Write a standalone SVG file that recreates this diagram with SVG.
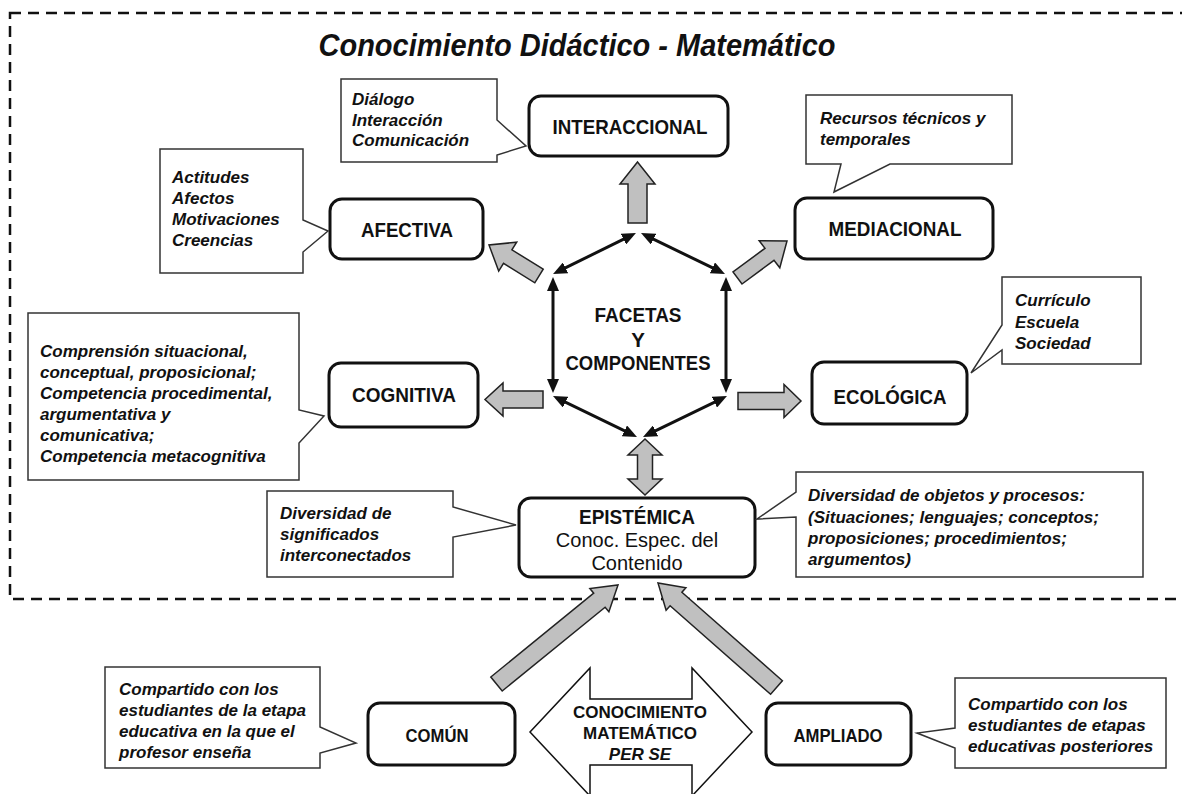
<svg xmlns="http://www.w3.org/2000/svg" width="1182" height="794" viewBox="0 0 1182 794">
<style>
.frame{fill:none;stroke:#111;stroke-width:2.5;stroke-dasharray:11 7}
.box{fill:#fff;stroke:#111;stroke-width:3}
.callout{fill:#fff;stroke:#333;stroke-width:1.5;stroke-linejoin:miter}
.garrow{fill:#c0c0c0;stroke:#222;stroke-width:1.5;stroke-linejoin:miter}
.warrow{fill:#fff;stroke:#111;stroke-width:1.5;stroke-linejoin:miter}
.hex{stroke:#111;stroke-width:3;fill:none;marker-start:url(#ah);marker-end:url(#ah)}
.title{font-family:"Liberation Sans",Arial,sans-serif;font-weight:bold;font-style:italic;font-size:31px;fill:#111;text-anchor:middle}
.lbl{font-family:"Liberation Sans",Arial,sans-serif;font-weight:bold;font-size:20.5px;fill:#111;text-anchor:middle}
.lbl2{font-family:"Liberation Sans",Arial,sans-serif;font-weight:bold;font-size:18.5px;fill:#111;text-anchor:middle}
.reg{font-family:"Liberation Sans",Arial,sans-serif;font-size:20px;fill:#111;text-anchor:middle}
.sm{font-family:"Liberation Sans",Arial,sans-serif;font-weight:bold;font-size:17px;fill:#111;text-anchor:middle}
.note{font-family:"Liberation Sans",Arial,sans-serif;font-weight:bold;font-style:italic;font-size:17px;fill:#111}
</style>
<defs>
<marker id="ah" viewBox="0 0 14 12" refX="2" refY="6" markerWidth="14" markerHeight="12" markerUnits="userSpaceOnUse" orient="auto-start-reverse">
<path d="M0,0 L14,6 L0,12 Z" fill="#111"/>
</marker>
</defs>
<rect width="1182" height="794" fill="#fff"/>
<rect class="frame" x="10" y="13" width="1190" height="586"/>
<text class="title" x="577" y="56" textLength="517" lengthAdjust="spacingAndGlyphs">Conocimiento Didáctico - Matemático</text>

<g id="connectors">
<line class="hex" x1="563.8" y1="268.7" x2="625.2" y2="238.3"/>
<line class="hex" x1="651.8" y1="238.3" x2="714.2" y2="268.7"/>
<line class="hex" x1="726" y1="289" x2="726" y2="381"/>
<line class="hex" x1="553" y1="289" x2="553" y2="381"/>
<line class="hex" x1="563.8" y1="401.3" x2="626.2" y2="431.7"/>
<line class="hex" x1="653.8" y1="431.7" x2="716.2" y2="401.3"/>
<polygon class="garrow" points="628,223 628,184 620,184 637.5,162 655,184 647,184 647,223"/>
<polygon class="garrow" points="543.2,269.2 511.9,249.8 516.7,242.2 489,245 498.7,271.1 503.5,263.4 534.8,282.8"/>
<polygon class="garrow" points="742,284 774,260.3 779.8,267.8 787,241 759.2,240.8 765,248.3 733,272"/>
<polygon class="garrow" points="543,391 503,391 503,383 485,399.5 503,416 503,408 543,408"/>
<polygon class="garrow" points="738,392.5 784,392.5 784,384.5 801,401 784,417.5 784,409.5 738,409.5"/>
<polygon class="garrow" points="645,439 662,455 652.5,455 652.5,479 662,479 645,495 628,479 637.5,479 637.5,455 628,455"/>
<polygon class="garrow" points="502.2,691 605.1,607.2 608.9,611.8 618,585 589.9,588.6 593.7,593.2 490.8,677"/>
<polygon class="garrow" points="782.4,680.8 681.9,592.2 685.9,587.7 658,583 666.1,610.2 670.1,605.7 770.6,694.3"/>
</g>

<g id="facetas">
<text class="lbl" x="638" y="322" textLength="87" lengthAdjust="spacingAndGlyphs">FACETAS</text>
<text class="lbl" x="638" y="347">Y</text>
<text class="lbl" x="638" y="370" textLength="145" lengthAdjust="spacingAndGlyphs">COMPONENTES</text>
</g>

<g id="interaccional">
<rect class="box" x="529" y="96" width="199" height="60" rx="12"/>
<text class="lbl" x="630" y="134" textLength="155" lengthAdjust="spacingAndGlyphs">INTERACCIONAL</text>
</g>
<g id="note-interaccional">
<path class="callout" d="M341,79 H497 V120 L526,146 L497,155 V162 H341 Z"/>
<text class="note" x="352" y="105">Diálogo</text>
<text class="note" x="352" y="126">Interacción</text>
<text class="note" x="352" y="146">Comunicación</text>
</g>

<g id="mediacional">
<rect class="box" x="795" y="198" width="198" height="61" rx="12"/>
<text class="lbl" x="895" y="236" textLength="133" lengthAdjust="spacingAndGlyphs">MEDIACIONAL</text>
</g>
<g id="note-mediacional">
<path class="callout" d="M806,95 H1012 V164 H890 L834,192 L841,164 H806 Z"/>
<text class="note" x="820" y="124">Recursos técnicos y</text>
<text class="note" x="820" y="145">temporales</text>
</g>

<g id="afectiva">
<rect class="box" x="330" y="199" width="153" height="60" rx="12"/>
<text class="lbl" x="407" y="236.5" textLength="92" lengthAdjust="spacingAndGlyphs">AFECTIVA</text>
</g>
<g id="note-afectiva">
<path class="callout" d="M160,149 H303 V220 L328,231 L303,252 V273 H160 Z"/>
<text class="note" x="172" y="183">Actitudes</text>
<text class="note" x="172" y="204">Afectos</text>
<text class="note" x="172" y="225">Motivaciones</text>
<text class="note" x="172" y="246">Creencias</text>
</g>

<g id="ecologica">
<rect class="box" x="812" y="362" width="155" height="62" rx="12"/>
<text class="lbl" x="890" y="404" textLength="113" lengthAdjust="spacingAndGlyphs">ECOLÓGICA</text>
</g>
<g id="note-ecologica">
<path class="callout" d="M1002,277 H1141 V364 H1002 V350 L971,373 L1002,325 Z"/>
<text class="note" x="1015" y="306">Currículo</text>
<text class="note" x="1015" y="328">Escuela</text>
<text class="note" x="1015" y="349">Sociedad</text>
</g>

<g id="cognitiva">
<rect class="box" x="329" y="363" width="149" height="64" rx="12"/>
<text class="lbl" x="404" y="402" textLength="104" lengthAdjust="spacingAndGlyphs">COGNITIVA</text>
</g>
<g id="note-cognitiva">
<path class="callout" d="M28,313 H299 V410 L324,416 L299,443 V480 H28 Z"/>
<text class="note" x="40" y="357">Comprensión situacional,</text>
<text class="note" x="40" y="378">conceptual, proposicional;</text>
<text class="note" x="40" y="399">Competencia procedimental,</text>
<text class="note" x="40" y="420">argumentativa y</text>
<text class="note" x="40" y="441">comunicativa;</text>
<text class="note" x="40" y="462">Competencia metacognitiva</text>
</g>

<g id="epistemica">
<rect class="box" x="519" y="498" width="236" height="79" rx="12"/>
<text class="lbl" x="637" y="524" textLength="116" lengthAdjust="spacingAndGlyphs">EPISTÉMICA</text>
<text class="reg" x="637" y="547">Conoc. Espec. del</text>
<text class="reg" x="637" y="570">Contenido</text>
</g>
<g id="note-epistemica-1">
<path class="callout" d="M267,491 H453 V507 L516,525 L453,537 V577 H267 Z"/>
<text class="note" x="280" y="519">Diversidad de</text>
<text class="note" x="280" y="540">significados</text>
<text class="note" x="280" y="561">interconectados</text>
</g>
<g id="note-epistemica-2">
<path class="callout" d="M796,472 H1143 V577 H796 V517 L757,519 L796,492 Z"/>
<text class="note" x="808" y="501">Diversidad de objetos y procesos:</text>
<text class="note" x="808" y="523">(Situaciones; lenguajes; conceptos;</text>
<text class="note" x="808" y="544">proposiciones; procedimientos;</text>
<text class="note" x="808" y="565">argumentos)</text>
</g>

<g id="conocimiento-matematico">
<polygon class="warrow" points="530,732 590,668 590,699 692,699 692,668 752,732 692,796 692,765 590,765 590,796"/>
<text class="sm" x="640" y="718">CONOCIMIENTO</text>
<text class="sm" x="640" y="739">MATEMÁTICO</text>
<text class="sm" x="640" y="760" font-style="italic">PER SE</text>
</g>

<g id="comun">
<rect class="box" x="368" y="703" width="147" height="62" rx="12"/>
<text class="lbl2" x="437" y="741.5" textLength="63" lengthAdjust="spacingAndGlyphs">COMÚN</text>
</g>
<g id="note-comun">
<path class="callout" d="M105,667 H320 V727 L356,743 L320,753 V768 H105 Z"/>
<text class="note" x="119" y="695">Compartido con los</text>
<text class="note" x="119" y="716">estudiantes de la etapa</text>
<text class="note" x="119" y="737">educativa en la que el</text>
<text class="note" x="119" y="758">profesor enseña</text>
</g>

<g id="ampliado">
<rect class="box" x="766" y="703" width="145" height="62" rx="12"/>
<text class="lbl2" x="838" y="742" textLength="89" lengthAdjust="spacingAndGlyphs">AMPLIADO</text>
</g>
<g id="note-ampliado">
<path class="callout" d="M955,678 H1166 V768 H955 V748 L917,733 L955,728 Z"/>
<text class="note" x="968" y="710">Compartido con los</text>
<text class="note" x="968" y="731">estudiantes de etapas</text>
<text class="note" x="968" y="752">educativas posteriores</text>
</g>
</svg>
